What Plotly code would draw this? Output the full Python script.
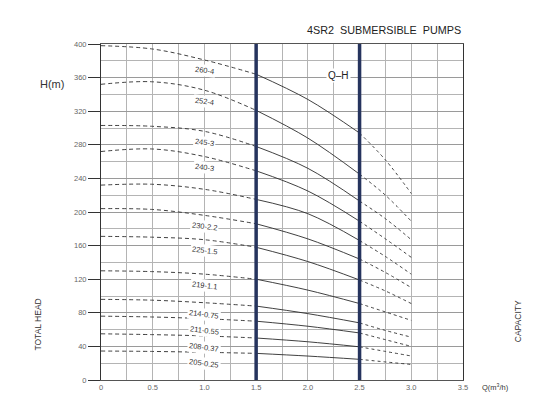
import plotly.graph_objects as go

flow = [0, 0.5, 1.0, 1.5, 2.0, 2.5, 2.75, 3.0]

# pump models, top to bottom (one label is hidden in the source picture)
models = ["260-4", "252-4", "245-3", "240-3", "", "230-2.2",
          "225-1.5", "219-1.1", "214-0.75", "211-0.55", "208-0.37", "205-0.25"]

head_260_4 = [398, 394, 381, 364, 334, 294, 262, 222]
head_252_4 = [352, 355, 345, 321, 288, 245, 220, 189]
head_245_3 = [303, 302, 296, 278, 252, 213, 192, 167]
head_240_3 = [272, 275, 266, 249, 225, 189, 168, 146]
head_hidden = [232, 233, 227, 215, 198, 166, 147, 126]
head_230_2 = [204, 203, 196, 186, 168, 144, 128, 110]
head_225_1 = [171, 170, 167, 158, 141, 119, 106, 91]
head_219_1 = [130, 129, 126, 120, 107, 91, 81, 71]
head_214_0 = [96, 95, 92, 88, 79, 68, 59, 51]
head_211_0 = [76, 75, 73, 70, 64, 56, 48, 40]
head_208_0 = [55, 54, 52.5, 50, 45.5, 39.5, 34, 28.6]
head_205_0 = [34.5, 34, 33, 31.7, 28.5, 24.6, 21.5, 18.5]

heads = [head_260_4, head_252_4, head_245_3, head_240_3, head_hidden, head_230_2,
         head_225_1, head_219_1, head_214_0, head_211_0, head_208_0, head_205_0]

# recommended working range (thick blue lines)
work_range = [1.5, 2.5]

y_ticks = [0, 40, 80, 120, 160, 200, 240, 280, 320, 360, 400]
x_ticks = [0, 0.5, 1.0, 1.5, 2.0, 2.5, 3.0, 3.5]
x_tick_text = ["0", "0.5", "1.0", "1.5", "2.0", "2.5", "3.0", "3.5"]

curve_color = "#2b2b2b"
font_name = "Liberation Sans, Arial, sans-serif"

fig = go.Figure()

# each curve: dashed before the working range, solid inside it, dashed after
segments = [(0, 4, "4px,3px"), (3, 6, "solid"), (5, 8, "3px,3px")]
for h in heads:
    for start, stop, dash in segments:
        fig.add_trace(go.Scatter(x=flow[start:stop], y=h[start:stop], mode="lines",
                                 line=dict(color=curve_color, width=0.9, dash=dash, shape="spline"),
                                 showlegend=False, hoverinfo="skip"))

for q in work_range:
    fig.add_trace(go.Scatter(x=[q, q], y=[0, 400], mode="lines",
                             line=dict(color="#26345e", width=3.5),
                             showlegend=False, hoverinfo="skip"))

# curve labels under each curve, near Q = 1.0
for name, h in zip(models, heads):
    if not name:
        continue
    fig.add_annotation(x=flow[2], y=h[2], text=name, showarrow=False, textangle=7,
                       xanchor="center", yanchor="top", yshift=-3, bgcolor="white",
                       font=dict(size=7.5, color="#333333", family=font_name))

fig.add_annotation(x=2.3, y=363, text="Q\u2013H", showarrow=False, bgcolor="white",
                   xanchor="center",
                   font=dict(size=10, color="#222222", family=font_name))

fig.add_annotation(xref="paper", yref="paper", x=1.0, y=1.0, xanchor="right", yanchor="bottom",
                   yshift=6, text="4SR2  SUBMERSIBLE  PUMPS", showarrow=False,
                   font=dict(size=10.8, color="#222222", family=font_name))
fig.add_annotation(xref="paper", yref="y", x=-0.135, y=352, text="H(m)", showarrow=False,
                   xanchor="center",
                   font=dict(size=11, color="#333333", family=font_name))
fig.add_annotation(xref="paper", yref="y", x=-0.174, y=66, text="TOTAL HEAD", textangle=-90,
                   xanchor="center", showarrow=False,
                   font=dict(size=8.5, color="#333333", family=font_name))
fig.add_annotation(xref="paper", yref="y", x=1.152, y=70, text="CAPACITY", textangle=-90,
                   xanchor="center", showarrow=False,
                   font=dict(size=8.5, color="#333333", family=font_name))
fig.add_annotation(xref="paper", yref="paper", x=1.09, y=0, yshift=-14, xanchor="center",
                   text="Q(m<sup>3</sup>/h)", showarrow=False,
                   font=dict(size=7.5, color="#333333", family=font_name))

# the page adds a small body margin, so the figure is slightly smaller than the window
fig.update_layout(
    width=534, height=398,
    margin=dict(l=93, r=79, t=36, b=26),
    paper_bgcolor="white", plot_bgcolor="white",
    font=dict(family=font_name),
    xaxis=dict(range=[0, 3.5], tickvals=x_ticks, ticktext=x_tick_text,
               showgrid=True, gridcolor="#b4b4b4", gridwidth=1,
               minor=dict(dtick=0.25, showgrid=True, gridcolor="#b4b4b4", gridwidth=1),
               showline=True, linecolor="#555555", linewidth=1, mirror=True,
               ticks="", tickfont=dict(size=7.5, color="#666666"), zeroline=False),
    yaxis=dict(range=[0, 400], tickvals=y_ticks,
               showgrid=True, gridcolor="#9a9a9a", gridwidth=1,
               minor=dict(dtick=20, showgrid=True, gridcolor="#b4b4b4", gridwidth=1),
               showline=True, linecolor="#333333", linewidth=1, mirror=True,
               ticks="outside", ticklen=12, tickcolor="#333333",
               tickfont=dict(size=7.5, color="#666666"), zeroline=False),
)

fig.write_html("out.html")
